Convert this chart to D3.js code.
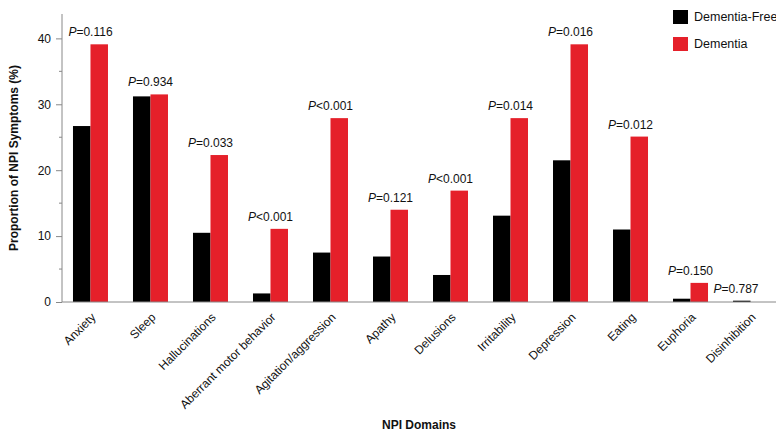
<!DOCTYPE html>
<html>
<head>
<meta charset="utf-8">
<script src="https://cdn.jsdelivr.net/npm/d3@7"></script>
<style>
  body { margin: 0; background: #fff; }
  svg { font-family: "Liberation Sans", Arial, sans-serif; }
</style>
</head>
<body>
<div id="chart"></div>
<script>
// NPI domains and proportions (%)
const domains = ["Anxiety", "Sleep", "Hallucinations", "Aberrant motor behavior",
  "Agitation/aggression", "Apathy", "Delusions", "Irritability", "Depression",
  "Eating", "Euphoria", "Disinhibition"];
const dementiaFree = [26.7, 31.2, 10.5, 1.3, 7.5, 6.9, 4.1, 13.1, 21.5, 11.0, 0.5, 0.2];
const dementia = [39.1, 31.5, 22.3, 11.1, 27.9, 14.0, 16.9, 27.9, 39.1, 25.1, 2.9, 0];
const pRel = ["=", "=", "=", "<", "<", "=", "<", "=", "=", "=", "=", "="];
const pVal = ["0.116", "0.934", "0.033", "0.001", "0.001", "0.121", "0.001", "0.014", "0.016", "0.012", "0.150", "0.787"];
const series = ["Dementia-Free", "Dementia"];
const yTicks = [0, 10, 20, 30, 40];
const yMinor = [5, 15, 25, 35];

const width = 776, height = 437;
const margin = {top: 14, right: 0, bottom: 135, left: 62};
const colors = {"Dementia-Free": "#000000", "Dementia": "#e5202a"};

const svg = d3.select("#chart").append("svg")
  .attr("width", width)
  .attr("height", height);

const data = domains.map((d, i) => ({
  domain: d,
  values: [dementiaFree[i], dementia[i]],
  label: pRel[i] + pVal[i]
}));

const x = d3.scaleBand()
  .domain(domains)
  .range([margin.left, 779])
  .paddingInner(0.4167)
  .paddingOuter(0.183);

const xInner = d3.scaleBand()
  .domain(series)
  .range([0, x.bandwidth()]);

const y = d3.scaleLinear()
  .domain([0, 43.7])
  .range([height - margin.bottom, margin.top]);

// bars
const groups = svg.append("g")
  .selectAll("g")
  .data(data)
  .enter().append("g")
    .attr("transform", d => `translate(${x(d.domain)},0)`);

groups.selectAll("rect")
  .data(d => d.values.map((v, j) => ({key: series[j], value: v})))
  .enter().append("rect")
    .attr("x", d => xInner(d.key))
    .attr("width", xInner.bandwidth())
    .attr("y", d => y(d.value))
    .attr("height", d => y(0) - y(d.value))
    .attr("fill", d => colors[d.key]);

// p-value labels
const pText = svg.append("g")
  .selectAll("text")
  .data(data)
  .enter().append("text")
    .attr("x", d => Math.min(x(d.domain) + x.bandwidth() / 2, width - 40))
    .attr("y", d => y(d3.max(d.values)) - 8)
    .attr("text-anchor", "middle")
    .style("font-size", "12px")
    .style("fill", "#111");
pText.append("tspan").style("font-style", "italic").text("P");
pText.append("tspan").text(d => d.label);

// y axis
const yAxis = svg.append("g")
  .attr("transform", `translate(${margin.left},0)`)
  .call(d3.axisLeft(y).tickValues(yTicks).tickSize(6).tickSizeOuter(0).tickPadding(5));
yAxis.selectAll(".tick line").attr("stroke", "#888");
yAxis.select(".domain").attr("stroke", "#888").attr("d", `M0,${y(0)}V${margin.top}`);
yAxis.selectAll("text").style("font-size", "12px").style("fill", "#111");

svg.append("g")
  .selectAll("line")
  .data(yMinor)
  .enter().append("line")
    .attr("x1", margin.left - 3)
    .attr("x2", margin.left)
    .attr("y1", d => y(d))
    .attr("y2", d => y(d))
    .attr("stroke", "#888");

// x axis
const xAxis = svg.append("g")
  .attr("transform", `translate(0,${y(0)})`)
  .call(d3.axisBottom(x).tickSize(0).tickSizeOuter(0));
xAxis.select(".domain").attr("stroke", "#888").attr("d", `M${margin.left},0H${width}`);
xAxis.selectAll("text")
  .style("font-size", "12px")
  .style("fill", "#111")
  .attr("y", 0)
  .attr("text-anchor", "end")
  .attr("dy", "0.7em")
  .attr("transform", "translate(0,10) rotate(-45)");

// axis titles
svg.append("text")
  .attr("transform", `translate(18,${(y(0) + margin.top) / 2}) rotate(-90)`)
  .attr("text-anchor", "middle")
  .attr("font-weight", "bold")
  .style("font-size", "12px")
  .style("fill", "#111")
  .text("Proportion of NPI Symptoms (%)");

svg.append("text")
  .attr("x", (margin.left + width) / 2)
  .attr("y", 429)
  .attr("text-anchor", "middle")
  .attr("font-weight", "bold")
  .style("font-size", "12px")
  .style("fill", "#111")
  .text("NPI Domains");

// legend
const legend = svg.append("g")
  .selectAll("g")
  .data(series)
  .enter().append("g")
    .attr("transform", (d, i) => `translate(673,${10 + i * 27})`);
legend.append("rect")
  .attr("width", 15)
  .attr("height", 14)
  .attr("fill", d => colors[d]);
legend.append("text")
  .attr("x", 21)
  .attr("y", 7)
  .attr("dy", "0.35em")
  .style("font-size", "12.5px")
  .style("fill", "#111")
  .text(d => d);
</script>
</body>
</html>
